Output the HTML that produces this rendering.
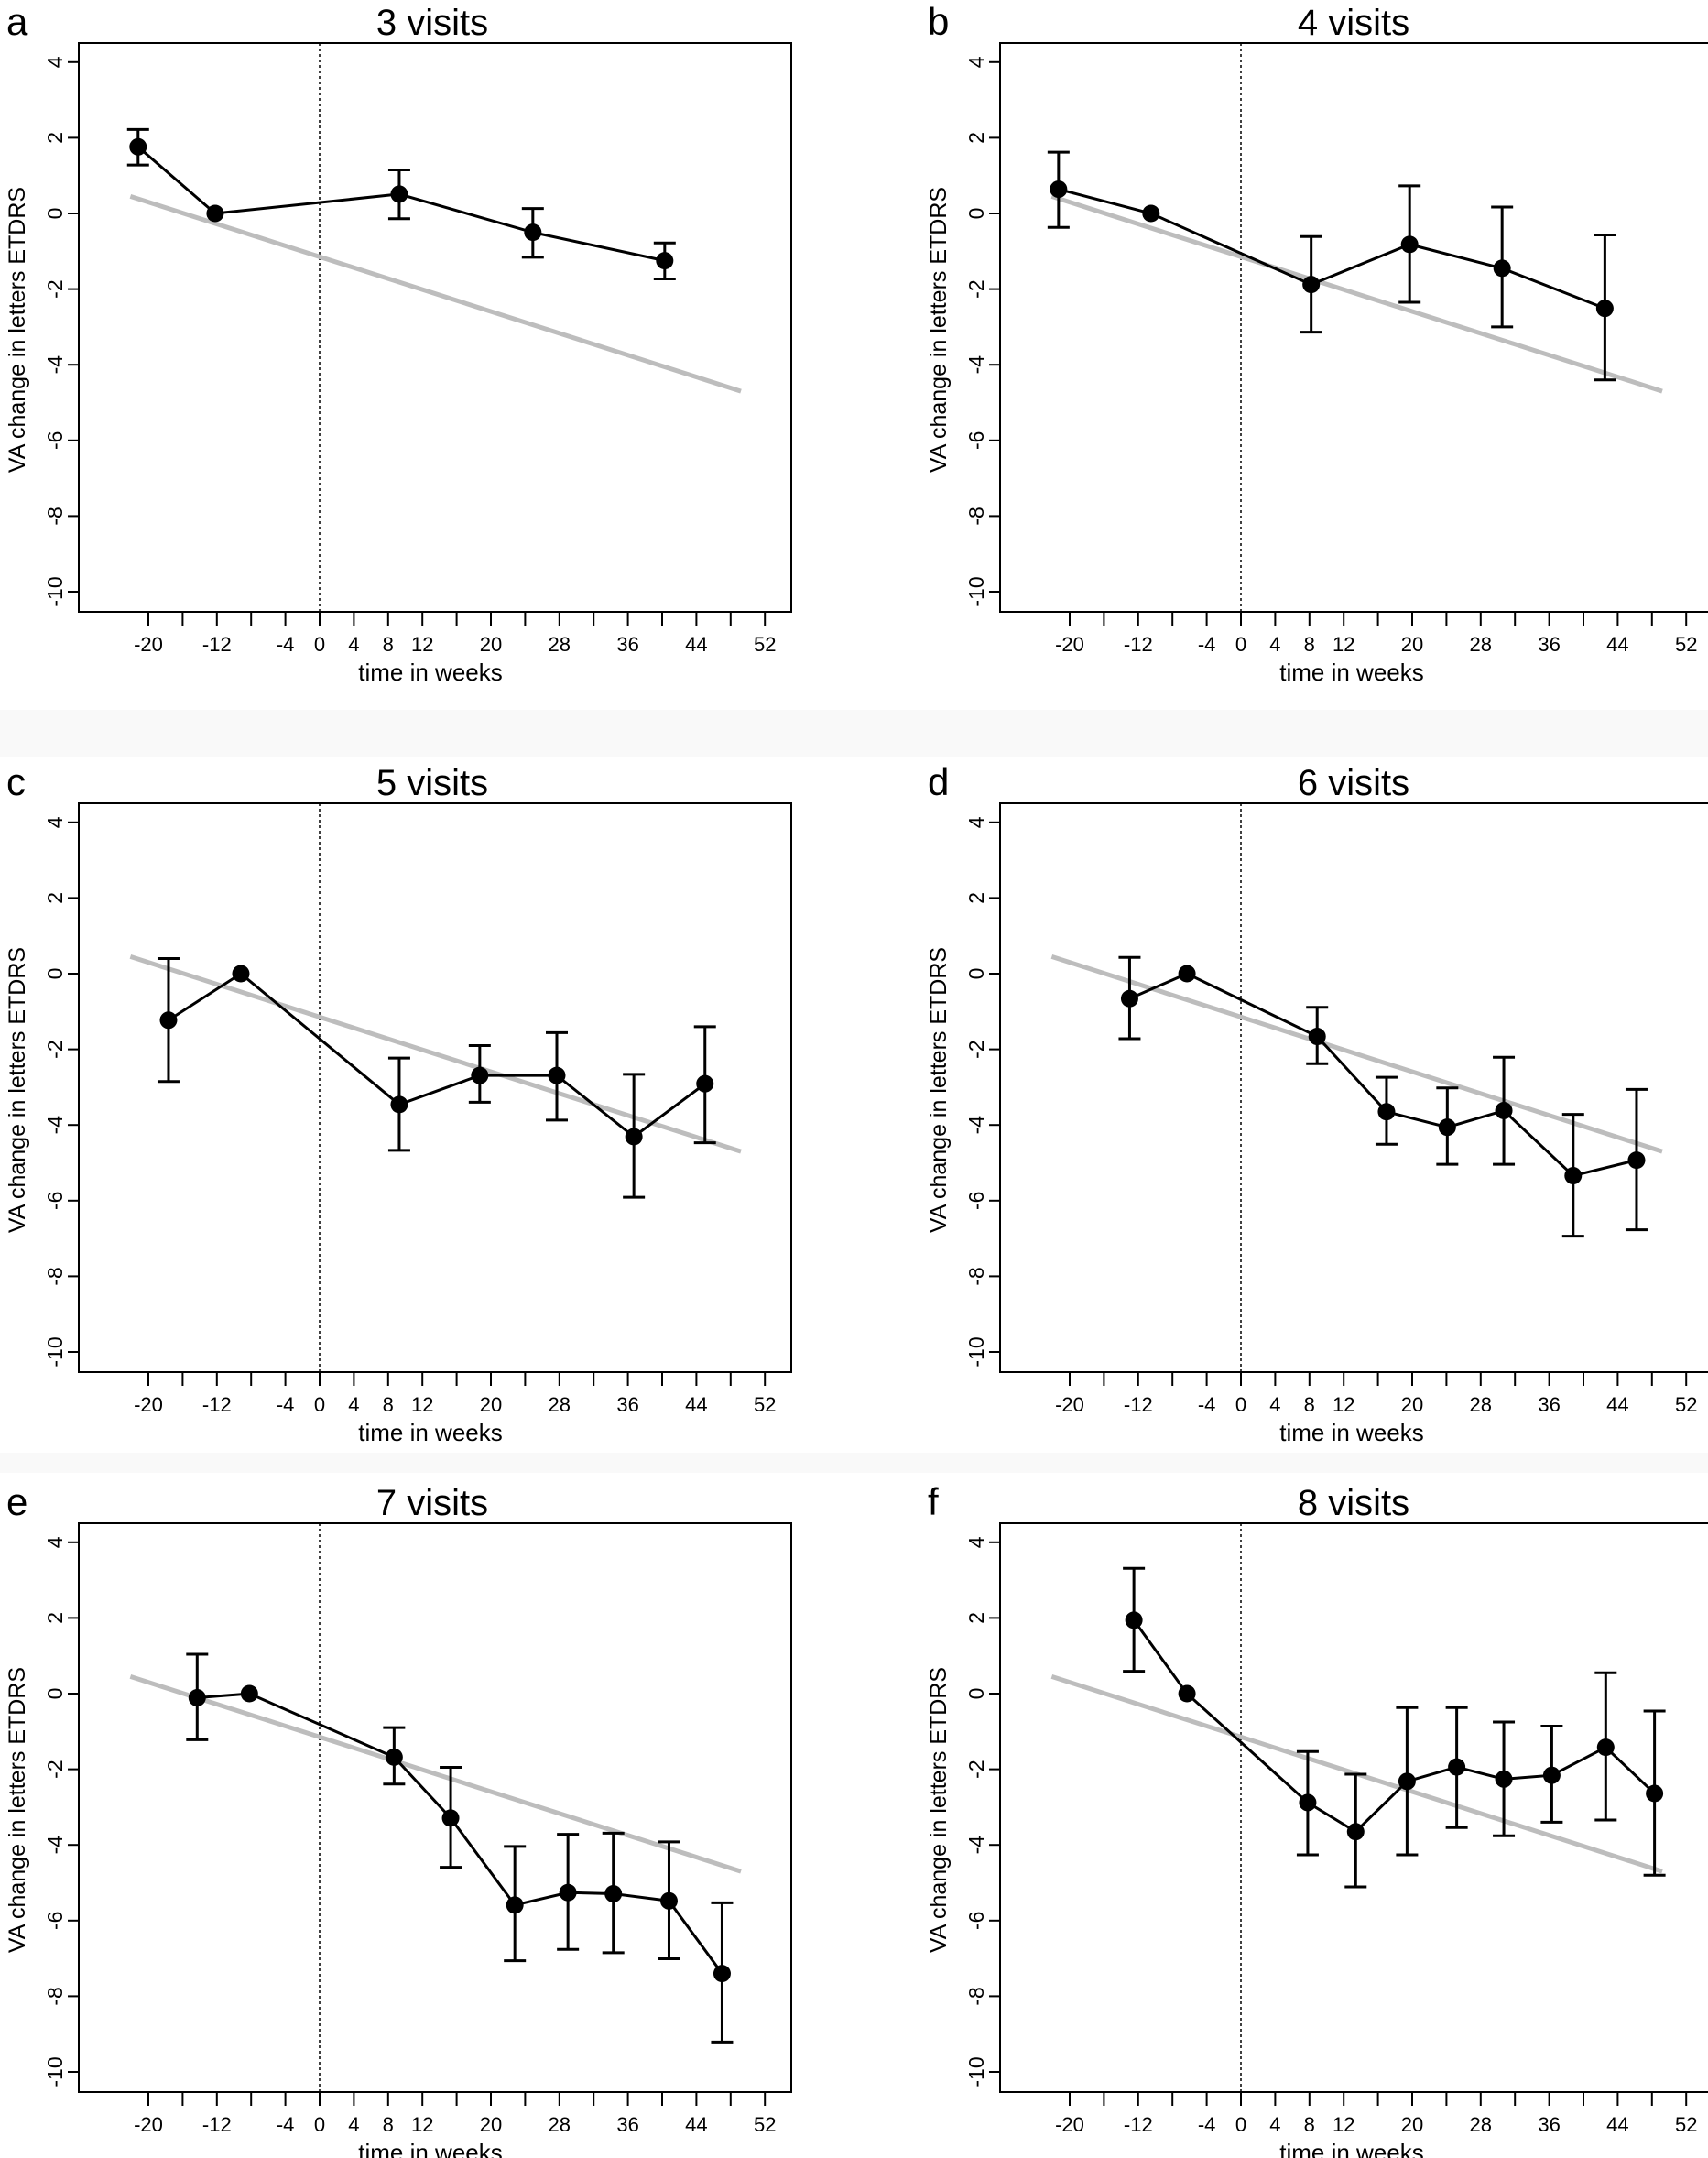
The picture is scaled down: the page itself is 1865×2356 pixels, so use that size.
<!DOCTYPE html>
<html><head><meta charset="utf-8"><style>
html,body{margin:0;padding:0;background:#fff;}
svg{display:block;font-family:"Liberation Sans",sans-serif;}
</style></head><body>
<svg id="fig" width="1865" height="2356" viewBox="0 0 1865 2356">
<rect x="0" y="775" width="1865" height="52" fill="#f9f9f9"/>
<rect x="0" y="1586" width="1865" height="22" fill="#f9f9f9"/>
</svg>
<script>
const panelLetters = ["a","b","c","d","e","f"];
const panelTitles = ["3 visits","4 visits","5 visits","6 visits","7 visits","8 visits"];
const weeksA = [-21.2,-12.2,9.3,24.9,40.3];
const valsA = [1.76,0,0.51,-0.5,-1.25];
const hiA = [2.22,0,1.15,0.13,-0.78];
const loA = [1.28,0,-0.14,-1.16,-1.73];
const weeksB = [-21.3,-10.5,8.2,19.7,30.5,42.5];
const valsB = [0.64,0,-1.88,-0.82,-1.45,-2.51];
const hiB = [1.62,0,-0.61,0.73,0.17,-0.57];
const loB = [-0.37,0,-3.14,-2.35,-3.0,-4.4];
const weeksC = [-17.65,-9.2,9.3,18.7,27.7,36.7,45];
const valsC = [-1.23,0,-3.46,-2.69,-2.69,-4.31,-2.91];
const hiC = [0.4,0,-2.23,-1.9,-1.56,-2.66,-1.4];
const loC = [-2.85,0,-4.67,-3.4,-3.87,-5.91,-4.47];
const weeksD = [-13.0,-6.3,8.9,17.0,24.1,30.7,38.8,46.2];
const valsD = [-0.66,0,-1.66,-3.65,-4.06,-3.62,-5.34,-4.93];
const hiD = [0.43,0,-0.89,-2.74,-3.02,-2.21,-3.72,-3.06];
const loD = [-1.72,0,-2.38,-4.51,-5.04,-5.04,-6.94,-6.77];
const weeksE = [-14.3,-8.2,8.7,15.3,22.8,29.0,34.3,40.8,47.0];
const valsE = [-0.11,0,-1.68,-3.29,-5.59,-5.26,-5.29,-5.48,-7.4];
const hiE = [1.04,0,-0.9,-1.95,-4.04,-3.72,-3.69,-3.92,-5.53];
const loE = [-1.22,0,-2.39,-4.59,-7.06,-6.76,-6.85,-7.01,-9.21];
const weeksF = [-12.5,-6.3,7.8,13.4,19.4,25.2,30.7,36.3,42.6,48.3];
const valsF = [1.94,0,-2.88,-3.65,-2.32,-1.94,-2.26,-2.16,-1.42,-2.64];
const hiF = [3.31,0,-1.53,-2.13,-0.37,-0.37,-0.75,-0.86,0.55,-0.46];
const loF = [0.59,0,-4.26,-5.11,-4.26,-3.54,-3.76,-3.4,-3.34,-4.8];
const trendWeeks = [-22.1,49.2];
const trendVals = [0.45,-4.7];
const xTickWeeks = [-20,-16,-12,-8,-4,0,4,8,12,16,20,24,28,32,36,40,44,48,52];
const xLabelWeeks = [-20,-12,-4,0,4,8,12,20,28,36,44,52];
const yTicks = [-10,-8,-6,-4,-2,0,2,4];

const weeksAll=[weeksA,weeksB,weeksC,weeksD,weeksE,weeksF];
const valsAll=[valsA,valsB,valsC,valsD,valsE,valsF];
const hiAll=[hiA,hiB,hiC,hiD,hiE,hiF];
const loAll=[loA,loB,loC,loD,loE,loF];

const NS="http://www.w3.org/2000/svg";
const svg=document.getElementById('fig');
function mk(tag,attrs,parent,text){const e=document.createElementNS(NS,tag);for(const k in attrs)e.setAttribute(k,attrs[k]);if(text!==undefined)e.textContent=text;parent.appendChild(e);return e;}
const colDx=[0,1006], rowDy=[0,830,1616];

for(let p=0;p<6;p++){
  const dx=colDx[p%2], dy=rowDy[Math.floor(p/2)];
  const g=mk('g',{transform:`translate(${dx},${dy})`},svg);
  
  
  const X=w=>349+w*9.35;
  const Y=v=>233-v*41.3;
  const L=86,R=864,T=47,B=668;
  const lt=mk('text',{x:7,y:38,'font-size':42},g,panelLetters[p]);
  
  
  const tt=mk('text',{x:472,y:38,'font-size':40,'text-anchor':'middle'},g,panelTitles[p]);
  
  
  const box=mk('rect',{x:L,y:T,width:R-L,height:B-T,fill:'#fff',stroke:'#000','stroke-width':2},g);
  
  
  const vl=mk('line',{x1:X(0),x2:X(0),y1:T,y2:B,stroke:'#000','stroke-width':1.5,'stroke-dasharray':'3,3'},g);
  
  
  xTickWeeks.forEach(w=>{const t=mk('line',{x1:X(w),x2:X(w),y1:B,y2:B+15,stroke:'#000','stroke-width':2},g);
    
    });
  xLabelWeeks.forEach(w=>{const t=mk('text',{x:X(w),y:711,'font-size':22,'text-anchor':'middle'},g,String(w));
    
    });
  yTicks.forEach(v=>{const t=mk('line',{x1:L-12,x2:L,y1:Y(v),y2:Y(v),stroke:'#000','stroke-width':2},g);
    
    
    const lb=mk('text',{transform:`translate(68,${Y(v)}) rotate(-90)`,'font-size':23,'text-anchor':'middle'},g,String(v));
    
    });
  const xt=mk('text',{x:470,y:743,'font-size':26,'text-anchor':'middle'},g,'time in weeks');
  
  
  const yt=mk('text',{transform:`translate(27,360) rotate(-90)`,'font-size':25,'text-anchor':'middle'},g,'VA change in letters ETDRS');
  
  
  const tl=mk('line',{x1:X(trendWeeks[0]),y1:Y(trendVals[0]),x2:X(trendWeeks[1]),y2:Y(trendVals[1]),stroke:'#bdbdbd','stroke-width':5},g);
  
  
  const ws=weeksAll[p],vs=valsAll[p],hs=hiAll[p],ls=loAll[p];
  ws.forEach((w,i)=>{
    if(hs[i]===ls[i])return;
    const e=mk('path',{d:`M${X(w)},${Y(hs[i])}V${Y(ls[i])}M${X(w)-12},${Y(hs[i])}H${X(w)+12}M${X(w)-12},${Y(ls[i])}H${X(w)+12}`,stroke:'#000','stroke-width':3,fill:'none'},g);
    
    
  });
  const pl=mk('polyline',{points:ws.map((w,i)=>X(w)+','+Y(vs[i])).join(' '),fill:'none',stroke:'#000','stroke-width':3},g);
  
  
  ws.forEach((w,i)=>{const c=mk('circle',{cx:X(w),cy:Y(vs[i]),r:9.5,fill:'#000'},g);
    
    });
}
</script>
</body></html>
